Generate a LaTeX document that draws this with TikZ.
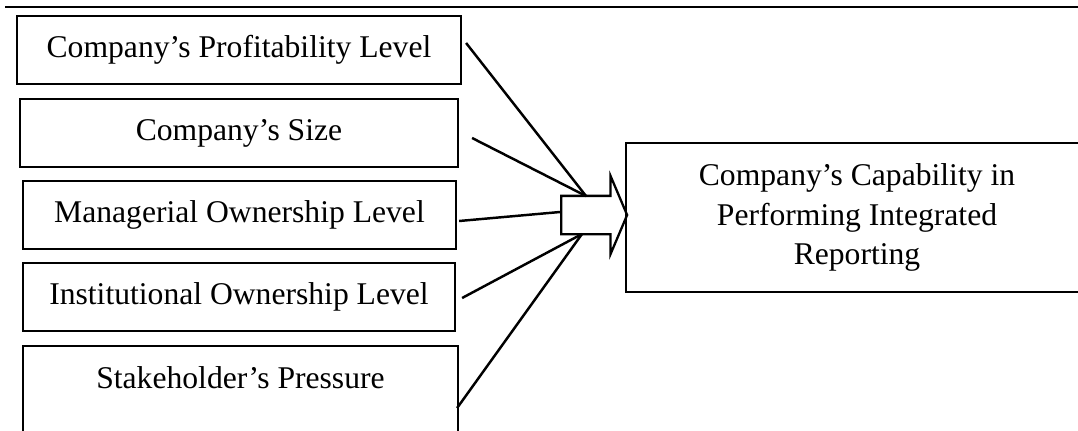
\documentclass[tikz,border=0pt]{standalone}
\usepackage{fontspec}
\setmainfont{Liberation Serif}
\usetikzlibrary{shapes.arrows,positioning}

\begin{document}
\begin{tikzpicture}[x=0.02cm,y=-0.02cm,
    factor/.style={draw,line width=1.3pt,minimum height=1.36cm,inner sep=0pt,
      align=center,font=\fontsize{18}{22.7}\selectfont},
    link/.style={line width=1.4pt},
    blockarr/.style={draw,single arrow,line width=1.3pt,fill=white,inner xsep=0pt,
      inner ysep=0.36cm,minimum height=1.32cm,single arrow head extend=0.4cm,
      single arrow tip angle=134}
  ]
    \useasboundingbox (0,0) rectangle (1078,430);
    \draw[line width=1.7pt] (5,7) -- (1080,7);
    % the five factors
    \node[factor,minimum width=8.88cm] (prof) at (239,50) {Company’s Profitability Level};
    \node[factor,minimum width=8.76cm] (size) at (239,133) {Company’s Size};
    \node[factor,minimum width=8.66cm] (manag) at (239.5,215) {Managerial Ownership Level};
    \node[factor,minimum width=8.64cm] (inst) at (239,297) {Institutional Ownership Level};
    \node[factor,minimum width=8.70cm,anchor=north,text height=0.64cm,text depth=2cm,
      inner ysep=0.2cm] (stake) at (240.5,345) {Stakeholder’s Pressure};
    % outcome
    \node[blockarr,anchor=tail] (arrow) at (560,215) {};
    \node[factor,minimum width=9.24cm,minimum height=2.98cm] (cap) at (857,217.5)
      {Company’s Capability in\\Performing Integrated\\Reporting};
    \coordinate (in top) at (586,196);
    \coordinate (in bot) at (582,234);
    \draw[link] ([shift={(4,-7)}]prof.east) -- (in top);
    \draw[link] ([shift={(13,5)}]size.east) -- (in top);
    \draw[link] ([shift={(2,6)}]manag.east) -- ([shift={(0,-3)}]arrow.tail);
    \draw[link] ([shift={(6,1)}]inst.east) -- (in bot);
    \draw[link] ([shift={(-2,63)}]stake.north east) -- (in bot);
  \end{tikzpicture}
\end{document}
